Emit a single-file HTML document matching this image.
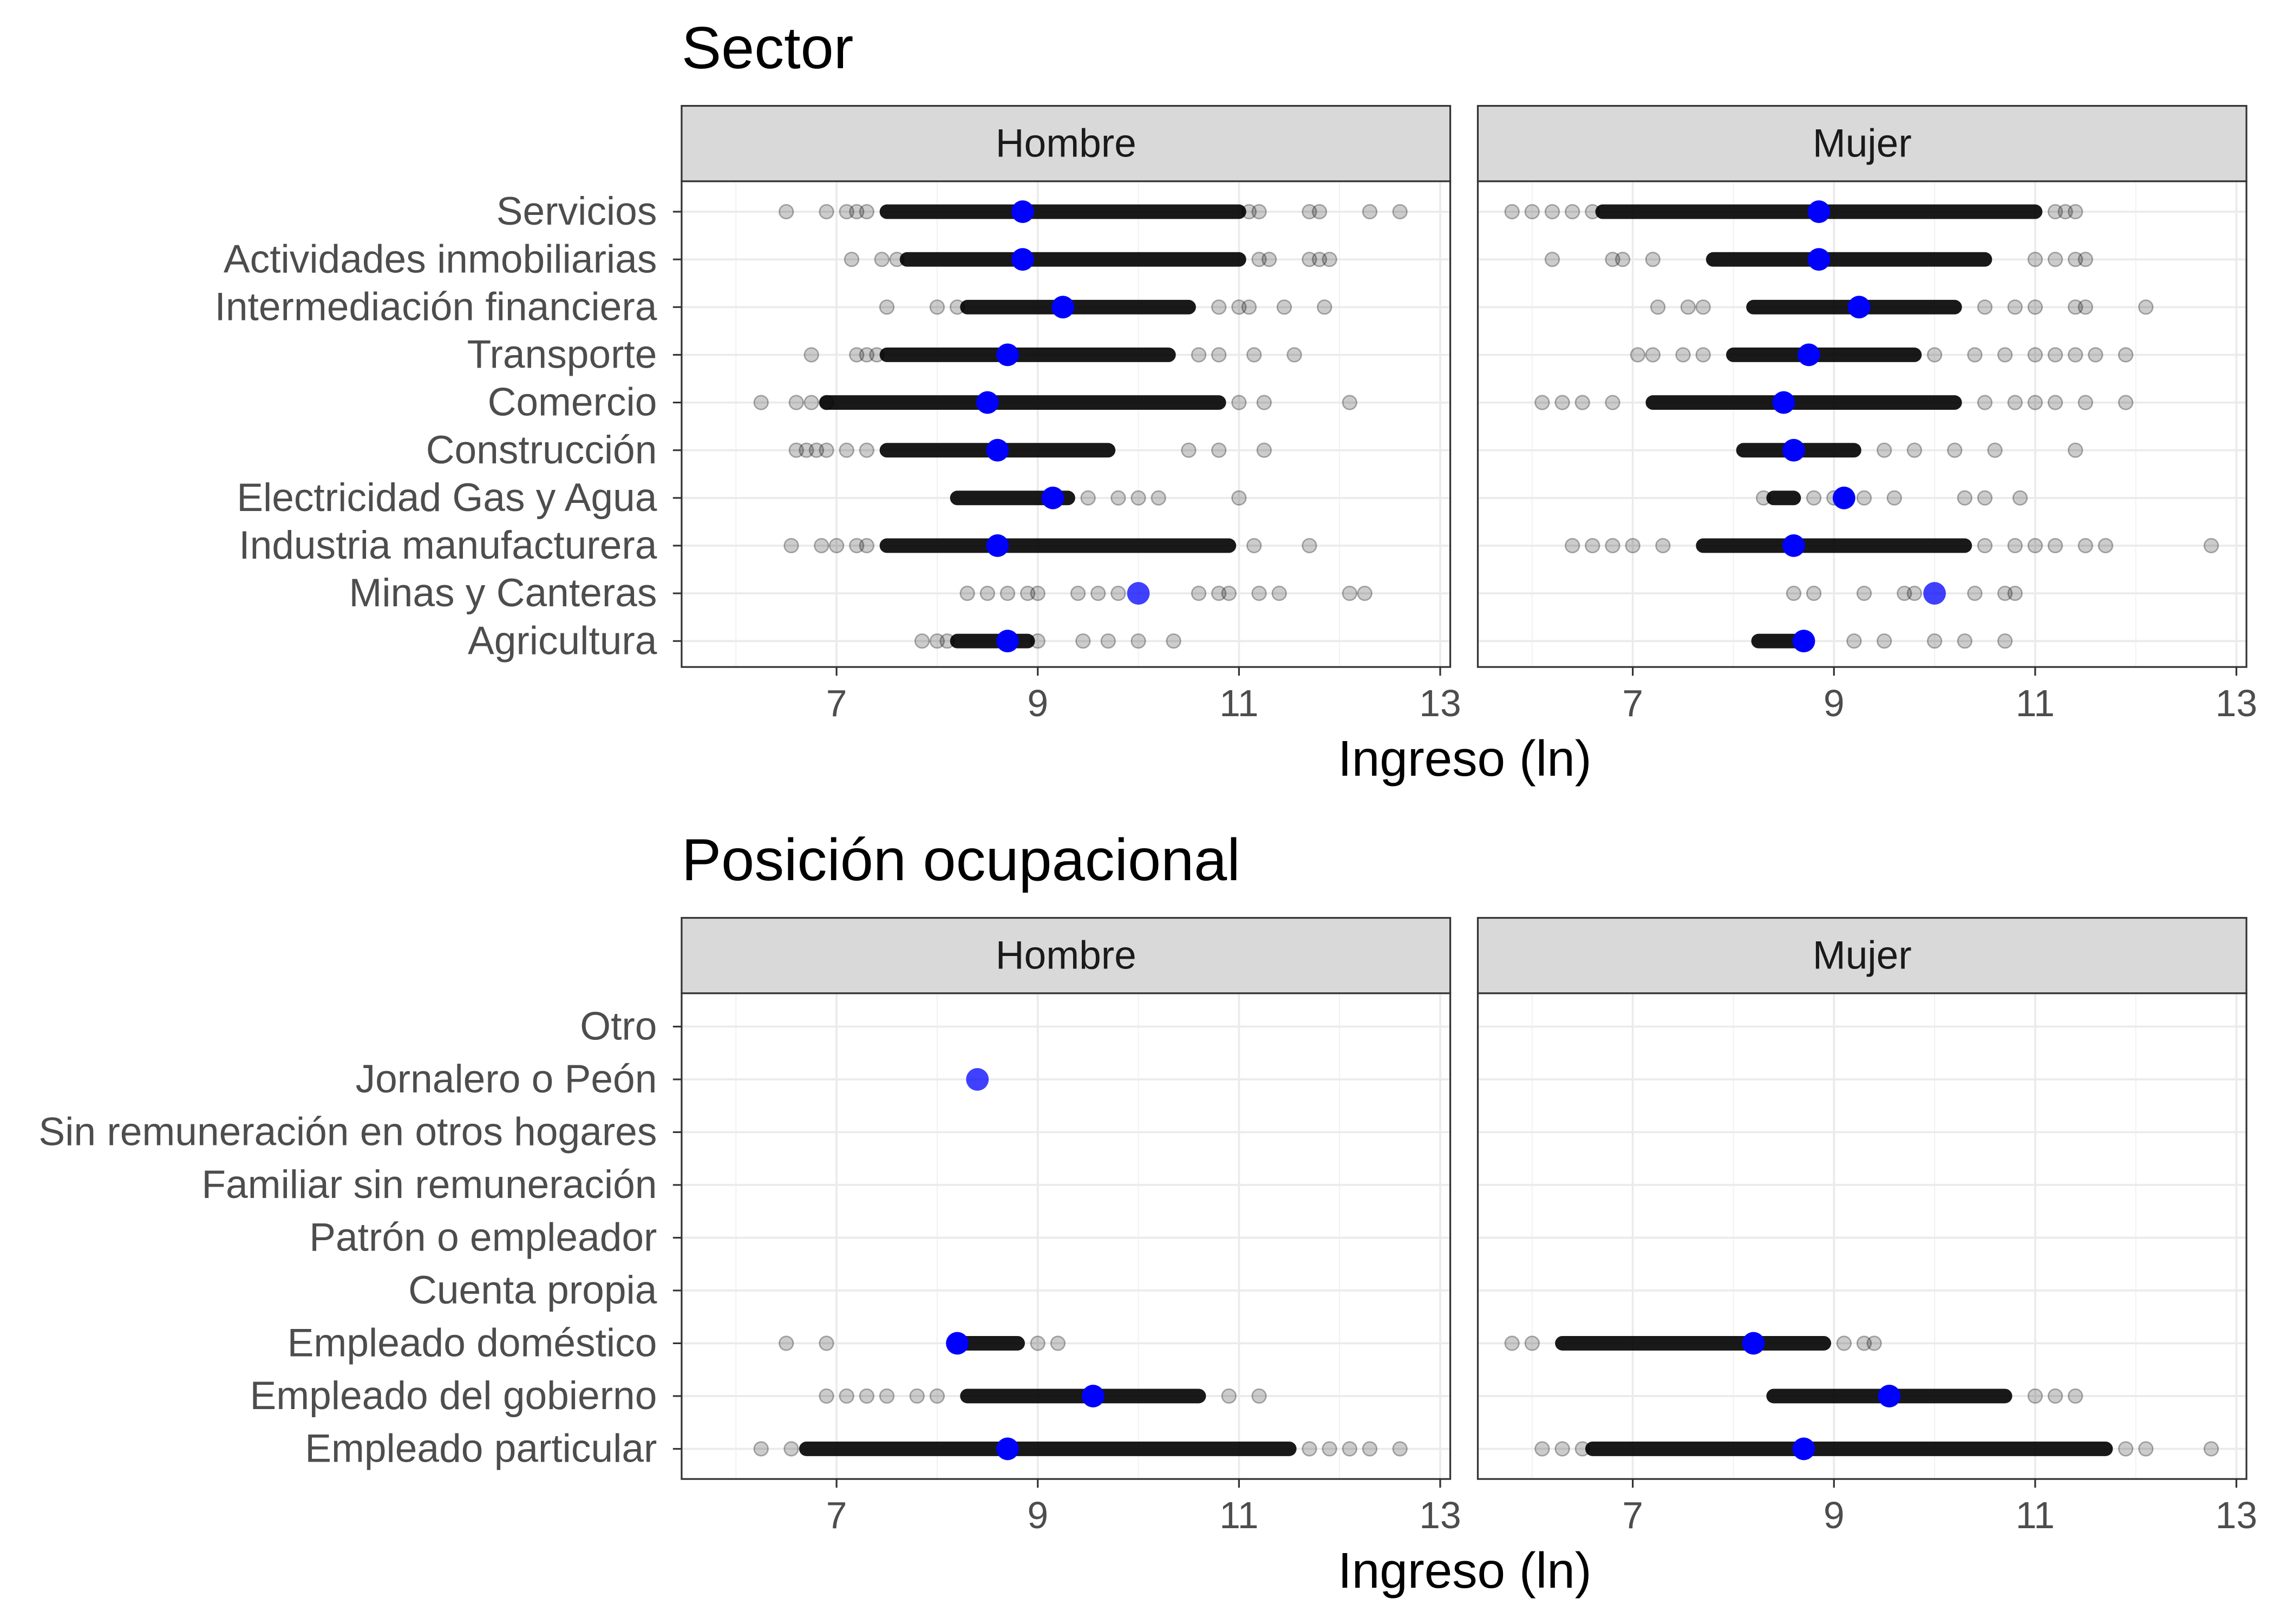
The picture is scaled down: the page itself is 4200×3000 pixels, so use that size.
<!DOCTYPE html>
<html><head><meta charset="utf-8"><style>
html,body{margin:0;padding:0;background:#fff;}
svg{display:block;font-family:"Liberation Sans",Arial,sans-serif;}
</style></head><body>
<svg id="chart" width="4200" height="3000" viewBox="0 0 1568 1120" xmlns="http://www.w3.org/2000/svg"></svg>
<script>
// ---- data ----
const sectorCats = ["Servicios","Actividades inmobiliarias","Intermediación financiera","Transporte","Comercio","Construcción","Electricidad Gas y Agua","Industria manufacturera","Minas y Canteras","Agricultura"];
const sectorHombreDense = [[7.5,11.0],[7.7,11.0],[8.3,10.5],[7.5,10.3],[6.9,10.8],[7.5,9.7],[8.2,9.3],[7.5,10.9],null,[8.2,8.9]];
const sectorHombreSparse = [[6.5,6.9,7.1,7.2,7.3,11.1,11.2,11.7,11.8,12.3,12.6],[7.15,7.45,7.6,11.2,11.3,11.7,11.8,11.9],[7.5,8.0,8.2,10.8,11.0,11.1,11.45,11.85],[6.75,7.2,7.3,7.4,10.6,10.8,11.15,11.55],[6.25,6.6,6.75,6.9,11.0,11.25,12.1],[6.6,6.7,6.8,6.9,7.1,7.3,10.5,10.8,11.25],[9.5,9.8,10.0,10.2,11.0],[6.55,6.85,7.0,7.2,7.3,11.15,11.7],[8.3,8.5,8.7,8.9,9.0,9.4,9.6,9.8,10.6,10.8,10.9,11.2,11.4,12.1,12.25],[7.85,8.0,8.1,9.0,9.45,9.7,10.0,10.35]];
const sectorHombreMean = [8.85,8.85,9.25,8.7,8.5,8.6,9.15,8.6,10.0,8.7];
const sectorMujerDense = [[6.7,11.0],[7.8,10.5],[8.2,10.2],[8.0,9.8],[7.2,10.2],[8.1,9.2],[8.4,8.6],[7.7,10.3],null,[8.25,8.7]];
const sectorMujerSparse = [[5.8,6.0,6.2,6.4,6.6,11.2,11.3,11.4],[6.2,6.8,6.9,7.2,11.0,11.2,11.4,11.5],[7.25,7.55,7.7,10.5,10.8,11.0,11.4,11.5,12.1],[7.05,7.2,7.5,7.7,10.0,10.4,10.7,11.0,11.2,11.4,11.6,11.9],[6.1,6.3,6.5,6.8,10.5,10.8,11.0,11.2,11.5,11.9],[9.5,9.8,10.2,10.6,11.4],[8.3,8.8,9.0,9.3,9.6,10.3,10.5,10.85],[6.4,6.6,6.8,7.0,7.3,10.5,10.8,11.0,11.2,11.5,11.7,12.75],[8.6,8.8,9.3,9.7,9.8,10.4,10.7,10.8],[9.2,9.5,10.0,10.3,10.7]];
const sectorMujerMean = [8.85,8.85,9.25,8.75,8.5,8.6,9.1,8.6,10.0,8.7];

const posCats = ["Otro","Jornalero o Peón","Sin remuneración en otros hogares","Familiar sin remuneración","Patrón o empleador","Cuenta propia","Empleado doméstico","Empleado del gobierno","Empleado particular"];
const posHombreDense = [null,null,null,null,null,null,[8.2,8.8],[8.3,10.6],[6.7,11.5]];
const posHombreSparse = [[],[],[],[],[],[],[6.5,6.9,9.0,9.2],[6.9,7.1,7.3,7.5,7.8,8.0,10.9,11.2],[6.25,6.55,11.7,11.9,12.1,12.3,12.6]];
const posHombreMean = [null,8.4,null,null,null,null,8.2,9.55,8.7];
const posMujerDense = [null,null,null,null,null,null,[6.3,8.9],[8.4,10.7],[6.6,11.7]];
const posMujerSparse = [[],[],[],[],[],[],[5.8,6.0,9.1,9.3,9.4],[11.0,11.2,11.4],[6.1,6.3,6.5,11.9,12.1,12.75]];
const posMujerMean = [null,null,null,null,null,null,8.2,9.55,8.7];

const xTicks = [7,9,11,13];
const xMinor = [6,8,10,12];

// ---- drawing ----
const NS="http://www.w3.org/2000/svg";
const svg=document.getElementById('chart');
function mk(tag,attrs,parent){const e=document.createElementNS(NS,tag);for(const k in attrs)e.setAttribute(k,attrs[k]);(parent||svg).appendChild(e);return e;}
const XMIN=5.46, XMAX=13.1;

function panel(px,top,bot,stripTop,label,cats,dense,sparse,means,y0,dy,showY,name){
  const W=530;
  const g=mk('g',{});
  
  
  const xs=v=>px+(v-XMIN)/(XMAX-XMIN)*W;
  const ys=i=>y0+i*dy;
  mk('rect',{x:px,y:top,width:W,height:bot-top,fill:'#fff'},g);
  xMinor.forEach(v=>mk('line',{x1:xs(v),x2:xs(v),y1:top,y2:bot,stroke:'#f0f0f0','stroke-width':0.7},g));
  xTicks.forEach(v=>mk('line',{x1:xs(v),x2:xs(v),y1:top,y2:bot,stroke:'#ebebeb','stroke-width':1.4},g));
  cats.forEach((c,i)=>mk('line',{x1:px,x2:px+W,y1:ys(i),y2:ys(i),stroke:'#ebebeb','stroke-width':1.4},g));
  cats.forEach((c,i)=>{
    const d=dense[i];
    if(d){
      const r=mk('rect',{x:xs(d[0])-5,y:ys(i)-5,width:xs(d[1])-xs(d[0])+10,height:10,rx:5,fill:'#000','fill-opacity':0.9},g);
      
      
    }
    sparse[i].forEach(v=>{
      const p=mk('circle',{cx:xs(v),cy:ys(i),r:4.8,fill:'#000','fill-opacity':0.2,stroke:'#000','stroke-opacity':0.3,'stroke-width':1},g);
      
      
    });
  });
  cats.forEach((c,i)=>{
    if(means[i]!=null){
      const m=mk('circle',{cx:xs(means[i]),cy:ys(i),r:7.8,fill:'#0000ff','fill-opacity':dense[i]?1:0.75},g);
      
      
    }
  });
  mk('rect',{x:px,y:top,width:W,height:bot-top,fill:'none',stroke:'#333','stroke-width':1.2},g);
  const s=mk('rect',{x:px,y:stripTop,width:W,height:top-stripTop,fill:'#d9d9d9',stroke:'#333','stroke-width':1.2},g);
  
  
  const st=mk('text',{x:px+W/2,y:(stripTop+top)/2+9,'text-anchor':'middle','font-size':27.3,fill:'#1a1a1a'},g);
  st.textContent=label;
  
  
  xTicks.forEach(v=>{
    mk('line',{x1:xs(v),x2:xs(v),y1:bot,y2:bot+6,stroke:'#333','stroke-width':1.2},g);
    const t=mk('text',{x:xs(v),y:bot+34,'text-anchor':'middle','font-size':26,fill:'#4d4d4d'},g);
    t.textContent=v;
    
    
  });
  if(showY){
    cats.forEach((c,i)=>{
      mk('line',{x1:px-6,x2:px,y1:ys(i),y2:ys(i),stroke:'#333','stroke-width':1.2},g);
      const t=mk('text',{x:px-17,y:ys(i)+9,'text-anchor':'end','font-size':27.3,fill:'#4d4d4d'},g);
      t.textContent=c;
      
      
    });
  }
}
function text(x,y,s,size,anchor,name){
  const t=mk('text',{x:x,y:y,'font-size':size,'text-anchor':anchor,fill:'#000'});
  t.textContent=s;
  
  
}
text(470,47,"Sector",41,'start','sector-title');
panel(470,125,460,73,"Hombre",sectorCats,sectorHombreDense,sectorHombreSparse,sectorHombreMean,146,32.9,true,'sector-hombre-panel');
panel(1019,125,460,73,"Mujer",sectorCats,sectorMujerDense,sectorMujerSparse,sectorMujerMean,146,32.9,false,'sector-mujer-panel');
text(1010,535,"Ingreso (ln)",34.6,'middle','x-axis-title-top');
text(470,607,"Posición ocupacional",41,'start','posicion-title');
panel(470,685,1020,633,"Hombre",posCats,posHombreDense,posHombreSparse,posHombreMean,708,36.4,true,'posicion-hombre-panel');
panel(1019,685,1020,633,"Mujer",posCats,posMujerDense,posMujerSparse,posMujerMean,708,36.4,false,'posicion-mujer-panel');
text(1010,1095,"Ingreso (ln)",34.6,'middle','x-axis-title-bottom');
</script>
</body></html>
